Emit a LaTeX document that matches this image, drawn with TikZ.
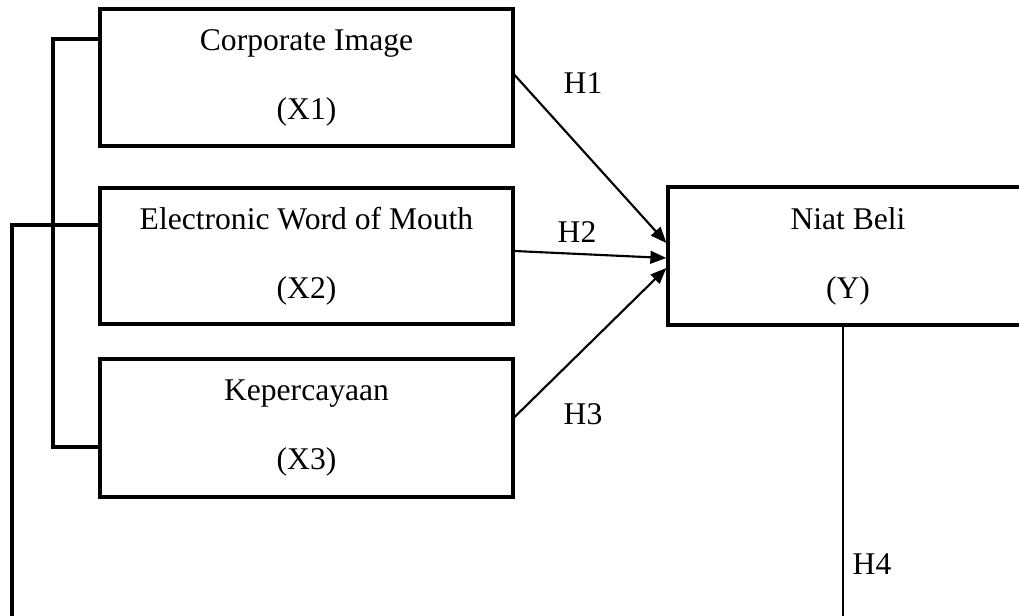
\documentclass[tikz,border=0pt]{standalone}
\usepackage{fontspec}
\setmainfont{Liberation Serif}
\usetikzlibrary{arrows.meta,calc}
\begin{document}
\begin{tikzpicture}[x=0.75pt,y=-0.75pt,
  txt/.style={font=\fontsize{23.7}{51.75}\selectfont},
  box/.style={draw,line width=2.4pt,minimum width=309.75pt,align=center,inner sep=0pt,txt},
  arr/.style={line width=1.6pt,-{Triangle[length=12pt,width=9.5pt]}},
  brk/.style={line width=2.4pt},
  thin/.style={line width=1.6pt}]
\useasboundingbox (0,0) rectangle (1019,615);
\clip (0,0) rectangle (1019,615);
\node[box,minimum height=102.75pt] (x1) at (306.5,77.5) {Corporate Image\\(X1)};
\node[box,minimum height=102pt] (x2) at (306.5,256) {Electronic Word of Mouth\\(X2)};
\node[box,minimum height=103.5pt] (x3) at (306.5,428) {Kepercayaan\\(X3)};
\node[box,minimum height=103.5pt,minimum width=270pt] (y) at (848,256) {Niat Beli\\(Y)};
\draw[arr] ($(x1.east)+(0,-2.5)$) -- ($(y.west)+(0,-13)$);
\draw[arr] ($(x2.east)+(0,-5)$) -- ($(y.west)+(0,2)$);
\draw[arr] ($(x3.east)+(0,-11)$) -- ($(y.west)+(0,12)$);
\node[txt] (h1) at (583,83) {H1};
\node[txt] (h2) at (577,232) {H2};
\node[txt] (h3) at (583,414) {H3};
\node[txt] (h4) at (872,564) {H4};
\coordinate (b1) at (53,39);
\coordinate (b3) at (53,447);
\coordinate (o1) at (12,225);
\coordinate (o2) at (12,620);
\coordinate (ye) at (843,620);
\draw[brk] (x1.west |- b1) -- (b1) -- (b3) -- (x3.west |- b3);
\draw[brk] (x2.west |- o1) -- (o1) -- (o2);
\draw[thin] (y.south -| ye) -- (ye);
\end{tikzpicture}
\end{document}
